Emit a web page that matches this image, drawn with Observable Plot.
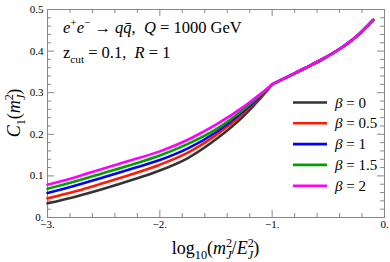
<!DOCTYPE html>
<html><head><meta charset="utf-8">
<script src="https://cdn.jsdelivr.net/npm/d3@7"></script>
<script src="https://cdn.jsdelivr.net/npm/@observablehq/plot@0.6"></script>
<style>body{margin:0;background:#fff} svg{display:block}</style>
</head><body><div id="chart"></div>
<script>
// ---- data ----
const betas = ["0", "0.5", "1", "1.5", "2"];
const colors = ["#333333", "#ff1a00", "#0000ff", "#00a000", "#ff00ff"];
const xLeft = [-3, -2.75, -2.5, -2.25, -2, -1.75, -1.5, -1.25, -1.1, -1];
const cBeta0  = [0.034, 0.050, 0.069, 0.090, 0.113, 0.143, 0.188, 0.245, 0.288, 0.320];
const cBeta05 = [0.046, 0.063, 0.083, 0.104, 0.127, 0.156, 0.198, 0.252, 0.291, 0.320];
const cBeta1  = [0.059, 0.077, 0.097, 0.117, 0.138, 0.166, 0.205, 0.257, 0.293, 0.320];
const cBeta15 = [0.069, 0.087, 0.107, 0.127, 0.149, 0.177, 0.212, 0.261, 0.295, 0.320];
const cBeta2  = [0.079, 0.097, 0.118, 0.138, 0.159, 0.187, 0.223, 0.267, 0.298, 0.320];
const xRight = [-1, -0.85, -0.7, -0.55, -0.4, -0.25, -0.1];
const cRight = [0.320, 0.340, 0.360, 0.381, 0.405, 0.435, 0.475];
const xMajor = [-3, -2, -1, 0];
const xMinor = [-2.8, -2.6, -2.4, -2.2, -1.8, -1.6, -1.4, -1.2, -0.8, -0.6, -0.4, -0.2];
const yMajor = [0, 0.1, 0.2, 0.3, 0.4, 0.5];
const yMinor = [0.02, 0.04, 0.06, 0.08, 0.12, 0.14, 0.16, 0.18, 0.22, 0.24, 0.26, 0.28,
                0.32, 0.34, 0.36, 0.38, 0.42, 0.44, 0.46, 0.48];
const xTickLabels = ["−3.", "−2.", "−1.", "0."];
const yTickLabels = ["0.", "0.1", "0.2", "0.3", "0.4", "0.5"];

// ---- build table ----
const leftSeries = [cBeta0, cBeta05, cBeta1, cBeta15, cBeta2];
const rows = [];
betas.forEach((b, i) => {
  xLeft.forEach((x, j) => rows.push({beta: b, seg: b + "L", x, y: leftSeries[i][j], order: i}));
  xRight.forEach((x, j) => rows.push({beta: b, seg: b + "R", x, y: cRight[j], order: i}));
});

const W = 390, H = 262;
const mL = 47, mR = 6, mT = 9, mB = 45;
const kx = (W - mL - mR) / 3;      // px per x unit
const ky = (H - mT - mB) / 0.5;    // px per y unit
const tkMaj = 7, tkMin = 4;
const fr = "#888888";
const font = "'Liberation Serif', 'Times New Roman', serif";

const plot = Plot.plot({
  width: W, height: H,
  marginLeft: mL, marginRight: mR, marginTop: mT, marginBottom: mB,
  style: {fontFamily: font, fontSize: "11px", background: "#fff", color: "#000"},
  x: {domain: [-3, 0], label: null},
  y: {domain: [0, 0.5], label: null},
  color: {domain: betas, range: colors},
  marks: [
    Plot.frame({stroke: fr, strokeWidth: 1}),
    // ticks bottom/top
    Plot.ruleX(xMajor, {x: d => d, y1: 0, y2: tkMaj / ky, stroke: fr}),
    Plot.ruleX(xMinor, {x: d => d, y1: 0, y2: tkMin / ky, stroke: fr}),
    Plot.ruleX(xMajor, {x: d => d, y1: 0.5, y2: 0.5 - tkMaj / ky, stroke: fr}),
    Plot.ruleX(xMinor, {x: d => d, y1: 0.5, y2: 0.5 - tkMin / ky, stroke: fr}),
    // ticks left/right
    Plot.ruleY(yMajor, {y: d => d, x1: -3, x2: -3 + tkMaj / kx, stroke: fr}),
    Plot.ruleY(yMinor, {y: d => d, x1: -3, x2: -3 + tkMin / kx, stroke: fr}),
    Plot.ruleY(yMajor, {y: d => d, x1: 0, x2: -tkMaj / kx, stroke: fr}),
    Plot.ruleY(yMinor, {y: d => d, x1: 0, x2: -tkMin / kx, stroke: fr}),
    Plot.axisX(xMajor, {tickSize: 0, tickPadding: 3, tickFormat: (d, i) => xTickLabels[i], fontSize: 11}),
    Plot.axisY(yMajor, {tickSize: 0, tickPadding: 4, tickFormat: (d, i) => yTickLabels[i], fontSize: 11}),
    Plot.line(rows, {x: "x", y: "y", z: "seg", stroke: "beta", strokeWidth: 2.6, curve: "monotone-x", sort: "order"})
  ]
});
document.getElementById("chart").appendChild(plot);

// ---- rich text helpers ----
const svg = d3.select(plot);
function rich(parent, parts, size, anchor = "start") {
  const text = parent.append("text")
    .attr("font-size", size).attr("font-family", font).attr("text-anchor", anchor)
    .attr("fill", "#000").style("white-space", "pre");
  let cur = 0;
  for (const p of parts) {
    const target = p.s === "sup" ? -0.4 * size : p.s === "sub" ? 0.28 * size : 0;
    const ts = text.append("tspan").text(p.t).attr("dy", target - cur);
    cur = target;
    if (p.s) ts.attr("font-size", size * 0.68);
    if (p.i) ts.attr("font-style", "italic");
    if (p.dx) ts.attr("dx", p.dx);
  }
  return text;
}

// annotations
rich(svg.append("g").attr("transform", "translate(63,33)"), [
  {t: "e", i: 1}, {t: "+", s: "sup"}, {t: "e", i: 1}, {t: "−", s: "sup"},
  {t: " → "}, {t: "q", i: 1}, {t: "q\u0304", i: 1}, {t: ",  "}, {t: "Q", i: 1}, {t: " = 1000 GeV"}
], 16.5);
rich(svg.append("g").attr("transform", "translate(63,58)"), [
  {t: "z"}, {t: "cut", s: "sub"}, {t: " = 0.1,  "}, {t: "R", i: 1}, {t: " = 1"}
], 16.5);

// axis titles
rich(svg.append("g").attr("transform", `translate(${(mL + W - mR) / 2},254)`), [
  {t: "log"}, {t: "10", s: "sub"}, {t: "("}, {t: "m", i: 1}, {t: "2", s: "sup"}, {t: "J", s: "sub", i: 1, dx: -6},
  {t: "/"}, {t: "E", i: 1}, {t: "2", s: "sup"}, {t: "J", s: "sub", i: 1, dx: -6}, {t: ")"}
], 18, "middle");
rich(svg.append("g").attr("transform", `translate(20,${(mT + H - mB) / 2}) rotate(-90)`), [
  {t: "C", i: 1}, {t: "1", s: "sub"}, {t: "("}, {t: "m", i: 1}, {t: "2", s: "sup"}, {t: "J", s: "sub", i: 1, dx: -6}, {t: ")"}
], 18, "middle");

// legend
const legY = [102.5, 123.3, 144.1, 164.9, 185.7];
const leg = svg.append("g");
betas.forEach((b, i) => {
  leg.append("line").attr("x1", 293).attr("x2", 327).attr("y1", legY[i]).attr("y2", legY[i])
    .attr("stroke", colors[i]).attr("stroke-width", 2.6);
  rich(leg.append("g").attr("transform", `translate(335,${legY[i] + 5})`), [
    {t: "β", i: 1}, {t: " = " + b}
  ], 15);
});
</script>
</body></html>
